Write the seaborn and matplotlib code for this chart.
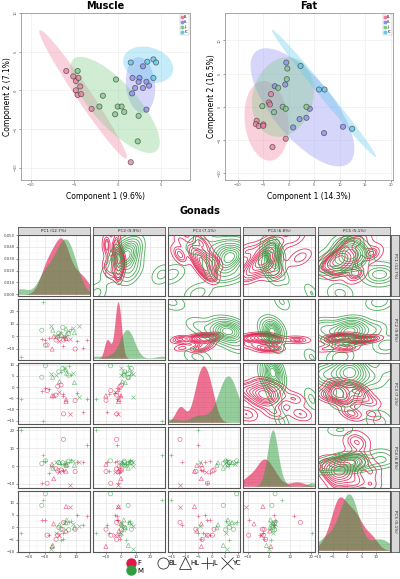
import numpy as np
import pandas as pd
import matplotlib
matplotlib.use("Agg")
import matplotlib.pyplot as plt
import seaborn as sns
from matplotlib.patches import Ellipse
from matplotlib.markers import MarkerStyle
from matplotlib.lines import Line2D
from matplotlib.ticker import MultipleLocator, AutoMinorLocator, FormatStrFormatter

# ---- Muscle sPLS-DA scores ----
muscle_group = ["BL"] * 10 + ["HL"] * 10 + ["JL"] * 10 + ["YC"] * 5
muscle_c1 = [-5.9, -5.1, -4.8, -4.5, -4.3, -4.8, -4.6, -4.2, -3.0, 1.5,
             1.7, 2.5, 2.4, 3.3, 3.6, 2.0, 2.9, 1.65, 3.3, 2.9,
             -4.6, -0.2, -1.7, -2.1, 0.0, 0.45, -0.3, 0.75, 2.4, 2.3,
             1.5, 3.4, 4.1, 4.4, 4.1]
muscle_c2 = [2.5, 1.8, 1.2, 1.6, 0.5, 0.0, -0.6, -0.5, -2.4, -9.3,
             1.6, 1.6, 1.1, 1.1, 0.6, 0.3, 0.3, -0.4, -2.5, 3.1,
             2.5, 1.4, -0.7, -2.1, -2.1, -2.1, -3.1, -2.8, -3.3, -6.6,
             3.6, 3.7, 4.0, 3.6, 1.6]

# ---- Fat sPLS-DA scores ----
fat_group = ["BL"] * 10 + ["HL"] * 9 + ["JL"] * 8 + ["YC"] * 4
fat_c1 = [-3.5, -3.9, -3.7, -6.3, -6.45, -5.9, -5.0, -5.0, -0.6, -3.2,
          -0.5, -0.7, 6.9, 10.6, 4.1, 0.85, 2.1, 3.45, -2.75,
          -5.2, -2.9, -0.3, -0.4, -2.1, -1.2, -0.6, 3.45,
          2.3, 5.9, 7.0, 12.4]
fat_c2 = [1.9, 0.65, 0.35, -2.1, -2.6, -2.9, -2.65, -2.85, -4.8, -6.05,
          6.65, 3.35, -3.95, -3.0, -0.3, -3.1, -1.85, -1.65, 3.1,
          0.1, -0.8, 5.75, 4.15, 2.85, 0.0, -0.3, 0.0,
          6.15, 2.6, 2.6, -3.3]

# ---- Gonads PCA scores ----
gon_sex = ["F"] * 20 + ["M"] * 20
gon_group = ["JL", "JL", "BL", "JL", "HL", "BL", "BL", "JL", "HL", "YC",
             "JL", "JL", "BL", "JL", "HL", "BL", "YC", "HL", "JL", "BL",
             "JL", "JL", "BL", "YC", "HL", "BL", "HL", "JL", "YC", "YC",
             "HL", "BL", "YC", "JL", "HL", "BL", "YC", "JL", "HL", "BL"]
gon_pc1 = [16.8, -9.6, -8.5, -11.7, -4.3, -1.7, 0.4, 1.5, 3.6, 6.2,
           10.6, 1.5, 9.4, 14.3, -5.3, -2.8, -1.1, 3.6, -7.4, 2.0,
           -25.0, -10.9, -9.6, -6.0, -4.9, 1.5, 3.6, 5.7, 8.3, -2.8,
           -0.6, 5.3, 12.1, 0.6, 4.0, -11.9, 2.6, 6.8, 8.9, -1.1]
gon_pc2 = [-2.6, -2.6, -6.8, -2.1, 0.0, -0.5, 0.5, -0.8, -1.6, -2.0,
           -3.9, -7.9, -10.0, -9.2, -10.1, -2.9, -3.8, -1.3, -1.0, -2.9,
           -16.6, 27.6, -7.0, 7.9, 5.0, 7.1, 6.0, 4.7, 6.8, 0.0,
           1.0, 2.2, 8.3, 3.4, 2.0, 4.9, 0.4, 6.1, 3.0, 2.5]
gon_pc3 = [-5.3, -0.6, -1.6, -1.6, -3.9, 0.3, 0.9, -3.9, -6.5, -12.1,
           -2.7, -3.3, -6.0, -11.3, -3.9, -3.6, -2.1, -5.6, -0.8, -12.0,
           -5.3, -15.3, 9.5, 5.8, 4.4, 8.3, 7.7, 9.5, 6.2, 5.5,
           2.4, 5.3, -4.6, 6.5, 6.2, 4.4, 8.7, 5.3, 2.0, 6.8]
gon_pc4 = [12.0, 3.0, -9.6, -9.3, -7.0, -2.6, -2.2, -2.2, -2.8, -10.7,
           2.6, -2.8, -3.0, 2.6, 1.0, -1.5, -3.5, 0.5, -4.0, 15.0,
           20.4, 6.2, 3.0, 0.0, -1.1, 1.9, 1.9, 2.4, 3.1, 2.2,
           1.9, 2.8, 2.6, 1.2, 0.8, 1.5, 1.0, 3.5, 0.5, 2.0]
gon_pc5 = [4.6, 3.0, -3.2, 3.0, 1.4, -3.2, -0.8, -4.9, 8.4, 8.4,
           5.1, -2.4, -0.8, 0.8, -7.8, -4.9, -3.2, -1.5, -3.2, 2.0,
           -2.4, 11.1, 13.6, -8.9, -7.3, -0.8, 1.9, 2.2, 1.5, -2.4,
           1.0, -1.0, 0.5, -5.0, 3.0, 8.9, 1.9, 2.5, -0.2, 0.0]

pops = ["BL", "HL", "JL", "YC"]
sexes = ["F", "M"]
pcs = ["PC1", "PC2", "PC3", "PC4", "PC5"]
pc_labels = ["PC1 (12.7%)", "PC2 (9.9%)", "PC3 (7.1%)", "PC4 (6.8%)", "PC5 (5.1%)"]

muscle = pd.DataFrame({"group": muscle_group, "c1": muscle_c1, "c2": muscle_c2})
fat = pd.DataFrame({"group": fat_group, "c1": fat_c1, "c2": fat_c2})
gon = pd.DataFrame({"sex": gon_sex, "group": gon_group, "PC1": gon_pc1, "PC2": gon_pc2,
                    "PC3": gon_pc3, "PC4": gon_pc4, "PC5": gon_pc5})

group_pal = {"BL": "#F07C9C", "HL": "#8A8CF2", "JL": "#7ACC86", "YC": "#5EC8EE"}
sex_pal = {"F": "#E3164B", "M": "#2E9E3E"}

W, H = 400, 579
fig = plt.figure(figsize=(W / 100, H / 100), dpi=100)


def fbox(x0, y0, x1, y1):
    # pixel box (top-left origin) -> figure fraction rect
    return [x0 / W, 1 - y1 / H, (x1 - x0) / W, (y1 - y0) / H]


def add_ellipse(ax, x, y, color):
    """95% confidence ellipse from the group covariance"""
    x = np.asarray(x, float)
    y = np.asarray(y, float)
    vals, vecs = np.linalg.eigh(np.cov(x, y))
    order = vals.argsort()[::-1]
    vals, vecs = vals[order], vecs[:, order]
    angle = np.degrees(np.arctan2(vecs[1, 0], vecs[0, 0]))
    k = np.sqrt(-2 * np.log(0.05))
    ax.add_patch(Ellipse((x.mean(), y.mean()), 2 * k * np.sqrt(vals[0]), 2 * k * np.sqrt(vals[1]),
                         angle=angle, facecolor=color, alpha=0.35, edgecolor="none", zorder=1))


def score_panel(ax, df, title, xlab, ylab, xlim, ylim):
    for g in pops:
        sub = df[df.group == g]
        add_ellipse(ax, sub.c1, sub.c2, group_pal[g])
    sns.scatterplot(data=df, x="c1", y="c2", hue="group", palette=group_pal, s=14, alpha=0.75,
                    edgecolor="#4a4a4a", linewidth=0.6, ax=ax, zorder=3, legend=False)
    ax.set_xlim(xlim)
    ax.set_ylim(ylim)
    ax.xaxis.set_major_locator(MultipleLocator(5))
    ax.yaxis.set_major_locator(MultipleLocator(5))
    ax.grid(color="#EEEEEE", lw=0.5)
    ax.set_axisbelow(True)
    for s in ax.spines.values():
        s.set_color("#999999")
        s.set_linewidth(0.6)
    ax.tick_params(labelsize=2.6, length=1.5, width=0.4, pad=1, colors="#555555")
    for t in ax.get_yticklabels():
        t.set_rotation(90)
        t.set_va("center")
    ax.set_xlabel(xlab, fontsize=5.5, labelpad=3)
    ax.set_ylabel(ylab, fontsize=5.5, labelpad=1)
    ax.set_title(title, fontsize=7, fontweight="bold", pad=3)
    handles = [Line2D([], [], marker="o", linestyle="", markersize=1.8, color=group_pal[g]) for g in pops]
    leg = ax.legend(handles, pops, loc="upper right", fontsize=2.2, frameon=True, borderpad=0.4,
                    handlelength=0.6, handletextpad=0.3, labelspacing=0.3, borderaxespad=0.3)
    leg.get_frame().set_linewidth(0.3)
    leg.get_frame().set_edgecolor("#999999")
    leg.get_frame().set_boxstyle("square", pad=0.0)


ax_m = fig.add_axes(fbox(21, 13, 190, 180))
score_panel(ax_m, muscle, "Muscle", "Component 1 (9.6%)", "Component 2 (7.1%)",
            (-11.1, 8.3), (-11.6, 10.0))
ax_f = fig.add_axes(fbox(225, 13, 393, 180))
score_panel(ax_f, fat, "Fat", "Component 1 (14.3%)", "Component 2 (16.5%)",
            (-12.5, 20.4), (-11.0, 14.1))

fig.text(200 / W, 1 - 211 / H, "Gonads", fontsize=7, fontweight="bold", ha="center", va="center")

# ---- Gonads pairs plot ----
lims = {}
for pc in pcs:
    lo, hi = gon[pc].min(), gon[pc].max()
    pad = 0.05 * (hi - lo)
    lims[pc] = (lo - pad, hi + pad)
steps = {"PC1": 10, "PC2": 10, "PC3": 5, "PC4": 10, "PC5": 5}

marker_map = {"BL": MarkerStyle("o", fillstyle="none"), "HL": MarkerStyle("^", fillstyle="none"),
              "JL": "+", "YC": "x"}

left, top, gap = 18, 235, 3
pw, ph = 72, 61

for i in range(5):
    for j in range(5):
        x0 = left + j * (pw + gap)
        y0 = top + i * (ph + gap)
        ax = fig.add_axes(fbox(x0, y0, x0 + pw, y0 + ph))
        xv, yv = pcs[j], pcs[i]
        if i == j:
            for sx, a in zip(sexes, [0.6, 0.5]):
                sub = gon[gon.sex == sx]
                sns.kdeplot(x=sub[xv], fill=True, color=sex_pal[sx], alpha=a, linewidth=0,
                            clip=lims[xv], bw_adjust=0.9, ax=ax)
        elif i < j:
            for sx in sexes:
                sub = gon[gon.sex == sx]
                sns.kdeplot(x=sub[xv], y=sub[yv], color=sex_pal[sx], levels=10, bw_adjust=0.85,
                            linewidths=0.6, alpha=0.85, ax=ax, warn_singular=False)
            ax.set_ylim(lims[yv])
        else:
            for g in pops:
                for sx in sexes:
                    sub = gon[(gon.group == g) & (gon.sex == sx)]
                    sns.scatterplot(data=sub, x=xv, y=yv, marker=marker_map[g], color=sex_pal[sx],
                                    s=9, linewidth=0.5, alpha=0.6, ax=ax, legend=False)
            ax.set_ylim(lims[yv])
        ax.set_xlim(lims[xv])
        ax.set_xlabel("")
        ax.set_ylabel("")
        ax.xaxis.set_major_locator(MultipleLocator(steps[xv]))
        ax.xaxis.set_minor_locator(AutoMinorLocator(2))
        if i == j:
            ax.set_ylim(bottom=-0.03 * ax.get_ylim()[1])
            ax.yaxis.set_major_locator(MultipleLocator(0.01))
            ax.yaxis.set_major_formatter(FormatStrFormatter("%.3f"))
        else:
            ax.yaxis.set_major_locator(MultipleLocator(steps[yv]))
        ax.yaxis.set_minor_locator(AutoMinorLocator(2))
        ax.grid(which="major", color="#E3E3E3", lw=0.5)
        ax.grid(which="minor", color="#F0F0F0", lw=0.3)
        ax.set_axisbelow(True)
        for s in ax.spines.values():
            s.set_color("#555555")
            s.set_linewidth(0.8)
        ax.tick_params(which="both", labelsize=2.8, length=1.5, width=0.4, pad=1, colors="#444444",
                       bottom=(i == 4), left=(j == 0), labelbottom=(i == 4), labelleft=(j == 0))
        ax.tick_params(which="minor", length=0)

        # facet strips
        if i == 0:
            sa = fig.add_axes(fbox(x0, 227, x0 + pw, 235))
            sa.set_facecolor("#D9D9D9")
            sa.set_xticks([])
            sa.set_yticks([])
            for s in sa.spines.values():
                s.set_color("#555555")
                s.set_linewidth(0.6)
            sa.text(0.5, 0.5, pc_labels[j], fontsize=3, ha="center", va="center", color="#222222",
                    transform=sa.transAxes)
        if j == 4:
            sa = fig.add_axes(fbox(391, y0, 399, y0 + ph))
            sa.set_facecolor("#D9D9D9")
            sa.set_xticks([])
            sa.set_yticks([])
            for s in sa.spines.values():
                s.set_color("#555555")
                s.set_linewidth(0.6)
            sa.text(0.5, 0.5, pc_labels[i], fontsize=3, ha="center", va="center", rotation=270,
                    color="#222222", transform=sa.transAxes)

# bottom legends
sex_handles = [Line2D([], [], marker="o", linestyle="", markersize=6.5, color=sex_pal[s]) for s in sexes]
fig.legend(sex_handles, sexes, loc="upper left", bbox_to_anchor=(124 / W, 1 - 557 / H),
           frameon=False, fontsize=5, handletextpad=0.4, labelspacing=0.15, borderpad=0,
           handlelength=1.0)
shape_handles = [Line2D([], [], marker=m, linestyle="", markersize=8, color="#333333",
                        markerfacecolor="none", markeredgewidth=0.6) for m in ["o", "^", "+", "x"]]
fig.legend(shape_handles, pops, loc="upper left", ncol=4, bbox_to_anchor=(156 / W, 1 - 557 / H),
           frameon=False, fontsize=5, handletextpad=0.2, columnspacing=0.6, borderpad=0,
           handlelength=1.1)

fig.savefig("out.png", dpi=100)
